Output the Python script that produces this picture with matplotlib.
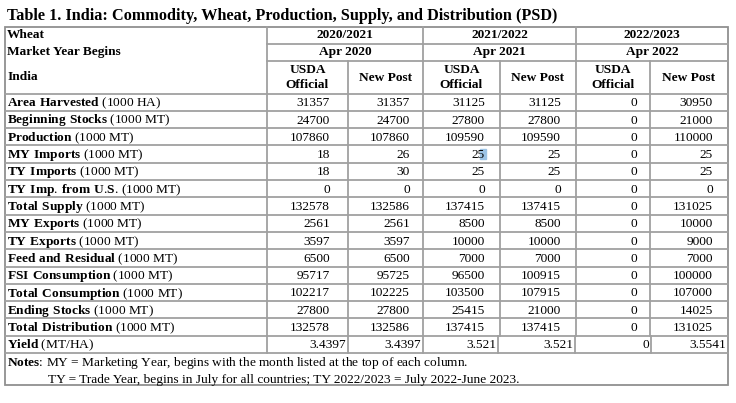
import re
import matplotlib
matplotlib.use("Agg")
import matplotlib.pyplot as plt
from matplotlib.patches import Rectangle

plt.rcParams['font.family'] = ['Liberation Serif', 'DejaVu Serif']
plt.rcParams['mathtext.fontset'] = 'custom'
plt.rcParams['mathtext.rm'] = 'Liberation Serif'
plt.rcParams['mathtext.bf'] = 'Liberation Serif:bold'

# table data
title = "Table 1. India: Commodity, Wheat, Production, Supply, and Distribution (PSD)"
years = ["2020/2021", "2021/2022", "2022/2023"]
year_begins = ["Apr 2020", "Apr 2021", "Apr 2022"]
sub_heads = ["USDA\nOfficial", "New Post"]

row_names = ["Area Harvested", "Beginning Stocks", "Production", "MY Imports",
             "TY Imports", "TY Imp. from U.S.", "Total Supply", "MY Exports",
             "TY Exports", "Feed and Residual", "FSI Consumption",
             "Total Consumption", "Ending Stocks", "Total Distribution", "Yield"]
row_units = ["(1000 HA)"] + ["(1000 MT)"] * 13 + ["(MT/HA)"]

usda_2020 = [31357, 24700, 107860, 18, 18, 0, 132578, 2561, 3597, 6500, 95717, 102217, 27800, 132578, 3.4397]
post_2020 = [31357, 24700, 107860, 26, 30, 0, 132586, 2561, 3597, 6500, 95725, 102225, 27800, 132586, 3.4397]
usda_2021 = [31125, 27800, 109590, 25, 25, 0, 137415, 8500, 10000, 7000, 96500, 103500, 25415, 137415, 3.521]
post_2021 = [31125, 27800, 109590, 25, 25, 0, 137415, 8500, 10000, 7000, 100915, 107915, 21000, 137415, 3.521]
usda_2022 = [0, 0, 0, 0, 0, 0, 0, 0, 0, 0, 0, 0, 0, 0, 0]
post_2022 = [30950, 21000, 110000, 25, 25, 0, 131025, 10000, 9000, 7000, 100000, 107000, 14025, 131025, 3.5541]

notes_1 = "MY = Marketing Year, begins with the month listed at the top of each column."
notes_2 = "TY = Trade Year, begins in July for all countries; TY 2022/2023 = July 2022-June 2023."

columns = [usda_2020, post_2020, usda_2021, post_2021, usda_2022, post_2022]

# layout (pixels)
W, H = 736, 403
left, right = 5, 728
top = 27
col_edges = [267, 348, 423, 500, 576, 650, 728]
yield_edges = [267, 348, 423, 498, 575, 651, 728]
right_pad = [18, 13, 15, 15, 13, 15]
head_rows = [27, 43.5, 61, 93.5]
row_h = 17.3
notes_bottom = 385
line_c = "#a0a0a0"
lw = 1.3
fs = 9.6

fig = plt.figure(figsize=(W / 100, H / 100), dpi=100)
ax = fig.add_axes([0, 0, 1, 1])
ax.set_xlim(0, W)
ax.set_ylim(H, 0)
ax.axis("off")


def bold_math(s):
    # words in \mathbf, punctuation left outside so mathtext adds no extra spacing
    out = ""
    for part in re.split(r"([.:])", s):
        if part in (".", ":"):
            out += part
        elif part:
            out += r"$\mathbf{" + part.replace(" ", r"\ ") + "}$"
    return out


def mixed(x, y, bold, regular):
    # bold lead-in + regular text as one string so the baselines match
    ax.text(x, y, bold_math(bold) + " " + regular, fontsize=fs, va="baseline")


n = len(row_names)
data_top = head_rows[-1]
data_bottom = data_top + n * row_h

ax.text(7, 16, title, fontsize=11.7, fontweight="bold", va="center", ha="left")

# outer border
ax.add_patch(Rectangle((left, top), right - left, notes_bottom - top,
                       fill=False, ec="#909090", lw=lw))

# header horizontal lines
ax.plot([col_edges[0], right], [head_rows[1]] * 2, color=line_c, lw=lw)
ax.plot([col_edges[0], right], [head_rows[2]] * 2, color=line_c, lw=lw)
ax.plot([left, right], [head_rows[3]] * 2, color=line_c, lw=lw)
for i in range(1, n + 1):
    y = data_top + i * row_h
    ax.plot([left, right], [y, y], color=line_c, lw=lw)

# vertical lines
for j, x in enumerate(col_edges[:-1]):
    y0 = top if j % 2 == 0 else head_rows[2]
    ax.plot([x, x], [y0, data_bottom - row_h], color=line_c, lw=lw)
for x in yield_edges[:-1]:
    ax.plot([x, x], [data_bottom - row_h, data_bottom], color=line_c, lw=lw)

# header text
ax.text(7, (head_rows[0] + head_rows[1]) / 2, "Wheat", fontsize=fs, fontweight="bold", va="center")
ax.text(7, (head_rows[1] + head_rows[2]) / 2, "Market Year Begins", fontsize=fs, fontweight="bold", va="center")
ax.text(7, (head_rows[2] + head_rows[3]) / 2, "India", fontsize=fs, fontweight="bold", va="center")
for k in range(3):
    xc = (col_edges[2 * k] + col_edges[2 * k + 2]) / 2
    ax.text(xc, (head_rows[0] + head_rows[1]) / 2, years[k], fontsize=fs, fontweight="bold", ha="center", va="center")
    ax.text(xc, (head_rows[1] + head_rows[2]) / 2, year_begins[k], fontsize=fs, fontweight="bold", ha="center", va="center")
    for s in range(2):
        xs = (col_edges[2 * k + s] + col_edges[2 * k + s + 1]) / 2
        ax.text(xs, (head_rows[2] + head_rows[3]) / 2 + 0.5, sub_heads[s], fontsize=fs, fontweight="bold",
                ha="center", va="center", linespacing=1.3)

# data rows
for i in range(n):
    yb = data_top + (i + 1) * row_h - 4.6
    mixed(7, yb, row_names[i], row_units[i])
    for j, col in enumerate(columns):
        if i == n - 1:
            xr = yield_edges[j + 1] - 2
        else:
            xr = col_edges[j + 1] - right_pad[j]
        ax.text(xr, yb, str(col[i]), fontsize=fs, ha="right", va="baseline")

# selection highlight on "25" (MY Imports, 2021 USDA)
r = row_names.index("MY Imports")
hx = col_edges[3] - right_pad[2]
ax.add_patch(Rectangle((hx - 5.5, data_top + r * row_h + 3.5), 6, 10.5, color="#9cc3e5", zorder=0))

# notes
ny1 = data_bottom + 13
mixed(7, ny1, "Notes:", notes_1)
ax.text(48, ny1 + 17, notes_2, fontsize=fs, va="baseline")

fig.savefig("out.png", dpi=100, facecolor="white")
